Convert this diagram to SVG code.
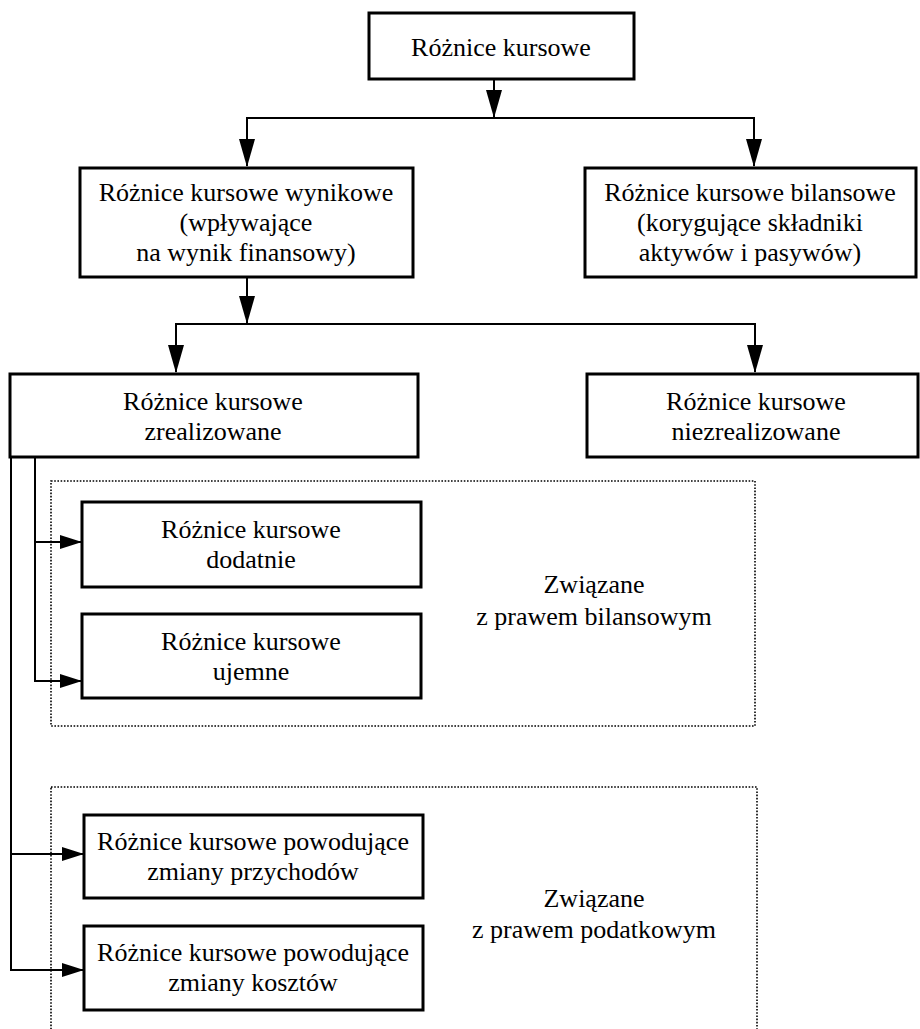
<svg xmlns="http://www.w3.org/2000/svg" width="920" height="1029" viewBox="0 0 920 1029">
<style>
.box{fill:#fff;stroke:#000;stroke-width:3}
.grp{fill:none;stroke:#000;stroke-width:1.6;stroke-dasharray:1.6 1.6}
.ln{fill:none;stroke:#000;stroke-width:2}
text{font-family:"Liberation Serif","Times New Roman",serif;font-size:26px;fill:#000;text-anchor:middle}
</style>
<defs>
<marker id="ah" markerUnits="userSpaceOnUse" markerWidth="28" markerHeight="16" refX="27" refY="8" orient="auto">
<path d="M0,0 L28,8 L0,16 Z" fill="#000"/>
</marker>
<marker id="ahs" markerUnits="userSpaceOnUse" markerWidth="22" markerHeight="14" refX="21" refY="7" orient="auto">
<path d="M0,0 L22,7 L0,14 Z" fill="#000"/>
</marker>
</defs>
<g id="groups">
<rect class="grp" x="51" y="481" width="704" height="245"/>
<rect class="grp" x="51" y="787" width="706" height="260"/>
</g>
<g id="connectors">
<line class="ln" x1="494" y1="79" x2="494" y2="117" marker-end="url(#ah)"/>
<line class="ln" x1="246" y1="118" x2="755" y2="118"/>
<line class="ln" x1="247" y1="118" x2="247" y2="166" marker-end="url(#ah)"/>
<line class="ln" x1="754" y1="118" x2="754" y2="166" marker-end="url(#ah)"/>
<line class="ln" x1="247" y1="278" x2="247" y2="323" marker-end="url(#ah)"/>
<line class="ln" x1="175" y1="324" x2="756" y2="324"/>
<line class="ln" x1="176" y1="324" x2="176" y2="372" marker-end="url(#ah)"/>
<line class="ln" x1="755" y1="324" x2="755" y2="372" marker-end="url(#ah)"/>
<polyline class="ln" points="35,457 35,542 81,542" marker-end="url(#ahs)"/>
<polyline class="ln" points="35,542 35,681 81,681" marker-end="url(#ahs)"/>
<polyline class="ln" points="11,457 11,854 83,854" marker-end="url(#ahs)"/>
<polyline class="ln" points="11,854 11,970 83,970" marker-end="url(#ahs)"/>
</g>
<g id="n-root">
<rect class="box" x="369" y="13" width="265" height="66"/>
<text x="501" y="56">Różnice kursowe</text>
</g>
<g id="n-wynikowe">
<rect class="box" x="80" y="168" width="333" height="109"/>
<text x="246" y="201">Różnice kursowe wynikowe</text>
<text x="246" y="231">(wpływające</text>
<text x="246" y="261">na wynik finansowy)</text>
</g>
<g id="n-bilansowe">
<rect class="box" x="585" y="168" width="331" height="109"/>
<text x="750" y="201">Różnice kursowe bilansowe</text>
<text x="750" y="231">(korygujące składniki</text>
<text x="750" y="261">aktywów i pasywów)</text>
</g>
<g id="n-zrealizowane">
<rect class="box" x="10" y="374" width="408" height="83"/>
<text x="213" y="410">Różnice kursowe</text>
<text x="213" y="440">zrealizowane</text>
</g>
<g id="n-niezrealizowane">
<rect class="box" x="587" y="374" width="331" height="83"/>
<text x="756" y="410">Różnice kursowe</text>
<text x="756" y="440">niezrealizowane</text>
</g>
<g id="n-dodatnie">
<rect class="box" x="82" y="502" width="339" height="85"/>
<text x="251" y="538">Różnice kursowe</text>
<text x="251" y="568">dodatnie</text>
</g>
<g id="n-ujemne">
<rect class="box" x="82" y="614" width="339" height="84"/>
<text x="251" y="650">Różnice kursowe</text>
<text x="251" y="680">ujemne</text>
</g>
<g id="l-bilans">
<text x="594" y="593">Związane</text>
<text x="594" y="625">z prawem bilansowym</text>
</g>
<g id="n-przychody">
<rect class="box" x="84" y="815" width="339" height="83"/>
<text x="253" y="850">Różnice kursowe powodujące</text>
<text x="253" y="880">zmiany przychodów</text>
</g>
<g id="n-koszty">
<rect class="box" x="84" y="926" width="339" height="84"/>
<text x="253" y="961">Różnice kursowe powodujące</text>
<text x="253" y="991">zmiany kosztów</text>
</g>
<g id="l-podatek">
<text x="594" y="907">Związane</text>
<text x="594" y="938">z prawem podatkowym</text>
</g>
</svg>
